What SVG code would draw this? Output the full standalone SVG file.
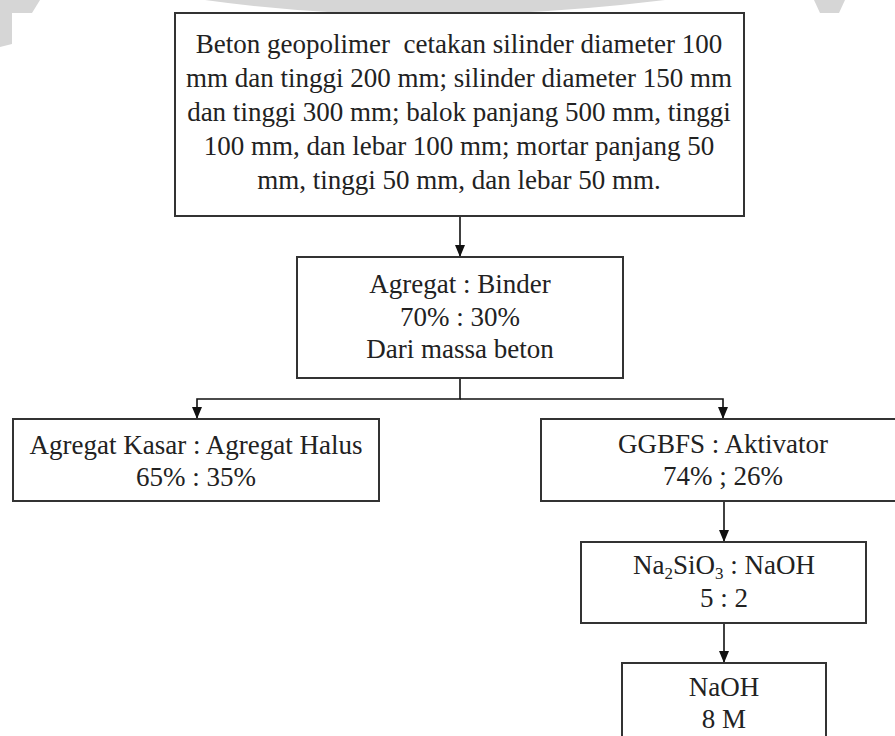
<svg xmlns="http://www.w3.org/2000/svg" width="895" height="736" viewBox="0 0 895 736">
<style>
.box{fill:#ffffff;stroke:#333333;stroke-width:2}
.t{font-family:"Liberation Serif","Times New Roman",serif;font-size:27px;fill:#222222;text-anchor:middle}
.c{fill:none;stroke:#111111;stroke-width:1.6}
.wm{fill:#d6d6d6}
</style>
<defs>
<marker id="ah" markerUnits="userSpaceOnUse" markerWidth="12" markerHeight="10" viewBox="0 0 12 10" refX="12" refY="5" orient="auto">
<path d="M0,0 L12,5 L0,10 Z" fill="#111111"/>
</marker>
</defs>
<rect width="895" height="736" fill="#ffffff"/>
<g id="watermark">
<polygon class="wm" points="0,0 40,0 32,13 12,13 12,44 0,47"/>
<path class="wm" d="M205,0 Q420,30 665,0 Z"/>
<polygon class="wm" points="814,0 845,0 839,13 820,13"/>
</g>
<g id="connectors">
<path class="c" d="M460,216 V257" marker-end="url(#ah)"/>
<path class="c" d="M460,378 V399 H197 V419" marker-end="url(#ah)"/>
<path class="c" d="M460,399 H723 V419" marker-end="url(#ah)"/>
<path class="c" d="M724,501 V542" marker-end="url(#ah)"/>
<path class="c" d="M724,623 V663" marker-end="url(#ah)"/>
</g>
<g id="node-beton">
<rect class="box" x="175" y="13" width="569" height="203"/>
<text class="t" x="459" y="53">Beton geopolimer&#160; cetakan silinder diameter 100</text>
<text class="t" x="459" y="87">mm dan tinggi 200 mm; silinder diameter 150 mm</text>
<text class="t" x="459" y="121">dan tinggi 300 mm; balok panjang 500 mm, tinggi</text>
<text class="t" x="459" y="155">100 mm, dan lebar 100 mm; mortar panjang 50</text>
<text class="t" x="459" y="189">mm, tinggi 50 mm, dan lebar 50 mm.</text>
</g>
<g id="node-agregat-binder">
<rect class="box" x="297" y="257" width="326" height="121"/>
<text class="t" x="460" y="293">Agregat : Binder</text>
<text class="t" x="460" y="326">70% : 30%</text>
<text class="t" x="460" y="358">Dari massa beton</text>
</g>
<g id="node-agregat-kasar-halus">
<rect class="box" x="13" y="419" width="366" height="82"/>
<text class="t" x="196" y="454">Agregat Kasar : Agregat Halus</text>
<text class="t" x="196" y="486">65% : 35%</text>
</g>
<g id="node-ggbfs-aktivator">
<rect class="box" x="541" y="419" width="364" height="82"/>
<text class="t" x="723" y="453">GGBFS : Aktivator</text>
<text class="t" x="723" y="485">74% ; 26%</text>
</g>
<g id="node-na2sio3-naoh">
<rect class="box" x="581" y="542" width="285" height="81"/>
<text class="t" x="724" y="574">Na<tspan font-size="17" dy="5">2</tspan><tspan dy="-5">SiO</tspan><tspan font-size="17" dy="5">3</tspan><tspan dy="-5"> : NaOH</tspan></text>
<text class="t" x="724" y="607">5 : 2</text>
</g>
<g id="node-naoh">
<rect class="box" x="622" y="663" width="204" height="90"/>
<text class="t" x="724" y="696">NaOH</text>
<text class="t" x="724" y="728">8 M</text>
</g>
</svg>
